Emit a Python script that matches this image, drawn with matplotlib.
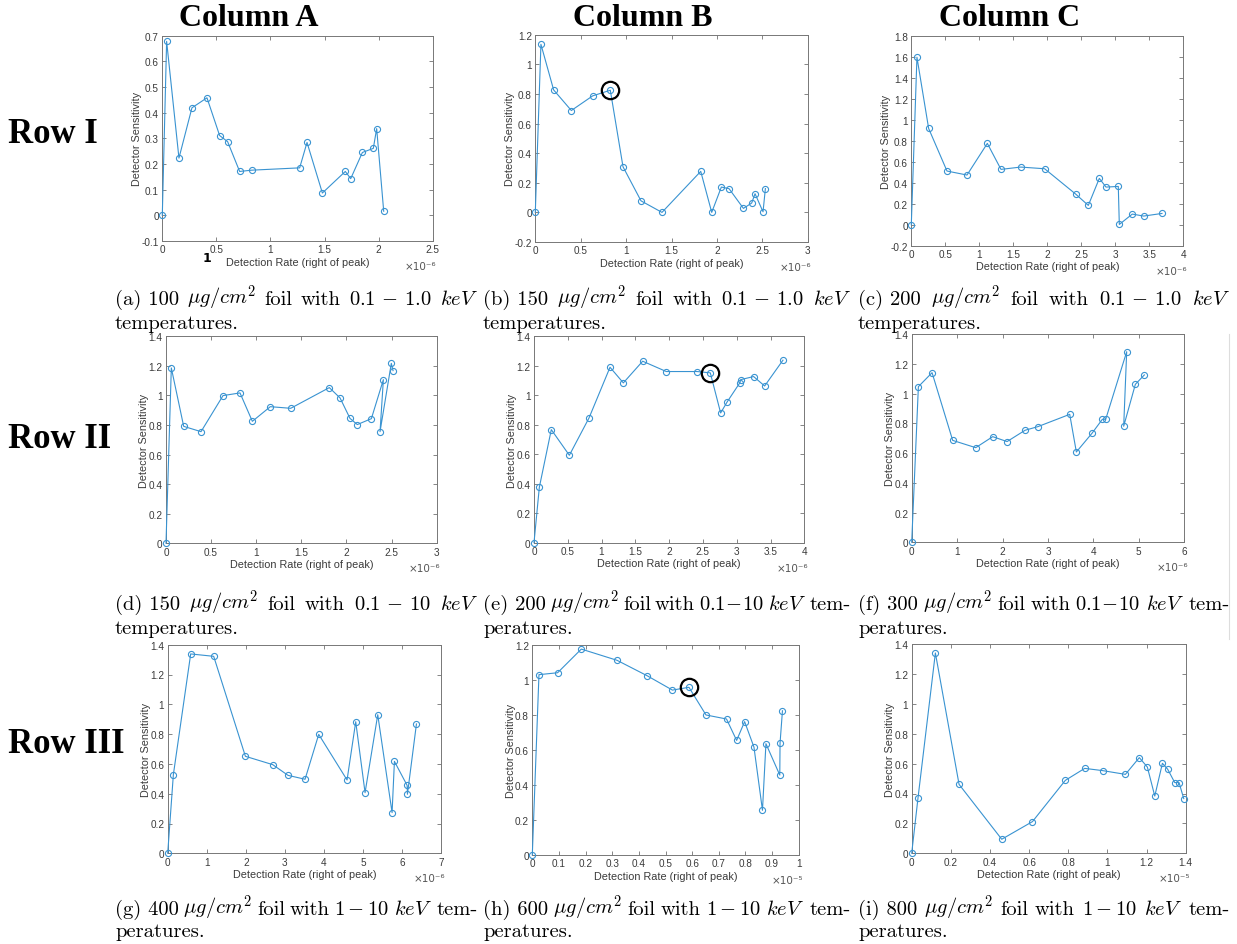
import matplotlib
matplotlib.use("Agg")
import matplotlib.pyplot as plt
from matplotlib.ticker import FuncFormatter
import numpy as np

W, H = 1237, 945

# detection rate (x, in units of the axis multiplier) and detector sensitivity (y)
a_rate = [0, 0.04, 0.154, 0.274, 0.413, 0.530, 0.604, 0.715, 0.826, 1.270, 1.338,
          1.480, 1.692, 1.742, 1.850, 1.951, 1.982, 2.047]
a_sens = [0, 0.678, 0.223, 0.419, 0.458, 0.311, 0.287, 0.171, 0.176, 0.185, 0.284,
          0.087, 0.171, 0.143, 0.245, 0.261, 0.338, 0.016]

b_rate = [0, 0.062, 0.202, 0.397, 0.632, 0.826, 0.966, 1.164, 1.395, 1.822, 1.943,
          2.049, 2.134, 2.292, 2.383, 2.420, 2.508, 2.534]
b_sens = [0, 1.135, 0.827, 0.688, 0.787, 0.825, 0.308, 0.078, 0.0, 0.277, 0.0,
          0.171, 0.160, 0.027, 0.063, 0.126, 0.004, 0.161]

c_rate = [0, 0.083, 0.255, 0.525, 0.819, 1.118, 1.319, 1.608, 1.961, 2.417, 2.603,
          2.765, 2.863, 3.044, 3.059, 3.250, 3.417, 3.686]
c_sens = [0, 1.60, 0.92, 0.513, 0.475, 0.777, 0.529, 0.551, 0.535, 0.293, 0.185,
          0.443, 0.360, 0.366, 0.003, 0.102, 0.083, 0.108]

d_rate = [0, 0.059, 0.196, 0.388, 0.632, 0.820, 0.957, 1.156, 1.382, 1.810, 1.929,
          2.039, 2.120, 2.276, 2.409, 2.372, 2.497, 2.516]
d_sens = [0, 1.186, 0.791, 0.755, 0.999, 1.017, 0.825, 0.924, 0.913, 1.053, 0.983,
          0.845, 0.803, 0.843, 1.107, 0.755, 1.217, 1.168]

e_rate = [0, 0.079, 0.256, 0.523, 0.814, 1.125, 1.322, 1.608, 1.958, 2.412, 2.609,
          2.762, 2.861, 3.048, 3.058, 3.250, 3.413, 3.684]
e_sens = [0, 0.376, 0.767, 0.593, 0.846, 1.19, 1.084, 1.231, 1.161, 1.161, 1.152,
          0.880, 0.957, 1.086, 1.106, 1.127, 1.063, 1.238]

f_rate = [0, 0.147, 0.448, 0.902, 1.409, 1.783, 2.099, 2.495, 2.774, 3.478, 3.624,
          3.969, 4.197, 4.270, 4.732, 4.666, 4.923, 5.121]
f_sens = [0, 1.046, 1.140, 0.685, 0.636, 0.710, 0.677, 0.753, 0.777, 0.860, 0.607,
          0.733, 0.827, 0.827, 1.281, 0.780, 1.062, 1.125]

g_rate = [0, 0.145, 0.589, 1.178, 1.990, 2.690, 3.083, 3.518, 3.868, 4.594, 4.816,
          5.055, 5.380, 5.747, 5.807, 6.132, 6.140, 6.371]
g_sens = [0, 0.528, 1.338, 1.322, 0.651, 0.595, 0.523, 0.497, 0.798, 0.492, 0.883,
          0.407, 0.930, 0.273, 0.617, 0.456, 0.396, 0.868]

h_rate = [0, 0.025, 0.095, 0.184, 0.318, 0.431, 0.526, 0.588, 0.652, 0.729, 0.767,
          0.797, 0.832, 0.864, 0.877, 0.929, 0.930, 0.939]
h_sens = [0, 1.029, 1.040, 1.175, 1.111, 1.023, 0.941, 0.957, 0.799, 0.776, 0.654,
          0.761, 0.616, 0.255, 0.635, 0.456, 0.639, 0.823]

i_rate = [0, 0.032, 0.121, 0.242, 0.460, 0.617, 0.785, 0.884, 0.976, 1.092, 1.163,
          1.204, 1.242, 1.281, 1.308, 1.344, 1.366, 1.390]
i_sens = [0, 0.368, 1.340, 0.461, 0.094, 0.212, 0.488, 0.568, 0.553, 0.528, 0.640,
          0.577, 0.383, 0.602, 0.562, 0.473, 0.473, 0.366]

# panel layout in pixels: left, right, top, bottom
panels = [
    dict(x=a_rate, y=a_sens, box=(162.3, 432.7, 36.7, 242.0), xlim=(0, 2.5), xstep=0.5,
         ylim=(-0.1, 0.7), ystep=0.1, mult="\u00d710\u207b\u2076", mark=None),
    dict(x=b_rate, y=b_sens, box=(535.3, 807.7, 35.7, 243.0), xlim=(0, 3), xstep=0.5,
         ylim=(-0.2, 1.2), ystep=0.2, mult="\u00d710\u207b\u2076", mark=5),
    dict(x=c_rate, y=c_sens, box=(911.3, 1183.3, 37.3, 246.7), xlim=(0, 4), xstep=0.5,
         ylim=(-0.2, 1.8), ystep=0.2, mult="\u00d710\u207b\u2076", mark=None),
    dict(x=d_rate, y=d_sens, box=(166.0, 436.7, 337.3, 544.3), xlim=(0, 3), xstep=0.5,
         ylim=(0, 1.4), ystep=0.2, mult="\u00d710\u207b\u2076", mark=None),
    dict(x=e_rate, y=e_sens, box=(534.0, 804.3, 337.3, 543.7), xlim=(0, 4), xstep=0.5,
         ylim=(0, 1.4), ystep=0.2, mult="\u00d710\u207b\u2076", mark=10),
    dict(x=f_rate, y=f_sens, box=(911.7, 1184.3, 335.0, 543.3), xlim=(0, 6), xstep=1,
         ylim=(0, 1.4), ystep=0.2, mult="\u00d710\u207b\u2076", mark=None),
    dict(x=g_rate, y=g_sens, box=(167.7, 441.0, 645.7, 854.3), xlim=(0, 7), xstep=1,
         ylim=(0, 1.4), ystep=0.2, mult="\u00d710\u207b\u2076", mark=None),
    dict(x=h_rate, y=h_sens, box=(532.3, 798.7, 645.7, 856.0), xlim=(0, 1), xstep=0.1,
         ylim=(0, 1.2), ystep=0.2, mult="\u00d710\u207b\u2075", mark=7),
    dict(x=i_rate, y=i_sens, box=(911.7, 1185.7, 645.0, 854.3), xlim=(0, 1.4), xstep=0.2,
         ylim=(0, 1.4), ystep=0.2, mult="\u00d710\u207b\u2075", mark=None),
]

captions = [
    ["(a) 100", r"$\mu g/cm^2$", "foil", "with", r"$0.1\,-\,1.0$", r"$keV$"],
    ["(b) 150", r"$\mu g/cm^2$", "foil", "with", r"$0.1\,-\,1.0$", r"$keV$"],
    ["(c) 200", r"$\mu g/cm^2$", "foil", "with", r"$0.1\,-\,1.0$", r"$keV$"],
    ["(d) 150", r"$\mu g/cm^2$", "foil", "with", r"$0.1\,-\,10$", r"$keV$"],
    ["(e) 200", r"$\mu g/cm^2$", "foil", "with", r"$0.1\!-\!10$", r"$keV$", "tem-"],
    ["(f) 300", r"$\mu g/cm^2$", "foil", "with", r"$0.1\!-\!10$", r"$keV$", "tem-"],
    ["(g) 400", r"$\mu g/cm^2$", "foil", "with", r"$1-10$", r"$keV$", "tem-"],
    ["(h) 600", r"$\mu g/cm^2$", "foil", "with", r"$1-10$", r"$keV$", "tem-"],
    ["(i) 800", r"$\mu g/cm^2$", "foil", "with", r"$1-10$", r"$keV$", "tem-"],
]
second_lines = ["temperatures."] * 4 + ["peratures."] * 5
caption_cols = [(115, 478), (483, 851), (858, 1230)]
caption_base = [(305, 329), (610, 634), (915, 937)]

col_titles = ["Column A", "Column B", "Column C"]
col_x = [249, 643, 1010]
row_titles = ["Row I", "Row II", "Row III"]
row_y = [135, 440, 745]

plt.rcParams["mathtext.fontset"] = "cm"
line_col = "#3993d1"
text_col = "#3a3a3a"
fig = plt.figure(figsize=(W / 100, H / 100), dpi=100)


def fx(px):
    return px / W


def fy(py):
    return 1 - py / H


for p in panels:
    l, r, t, b = p["box"]
    ax = fig.add_axes([fx(l), fy(b), (r - l) / W, (b - t) / H])
    ax.plot(p["x"], p["y"], "-o", color=line_col, lw=0.8, ms=4.4, mfc="none", mew=0.8,
            clip_on=False, zorder=3)
    if p["mark"] is not None:
        k = p["mark"]
        ax.plot(p["x"][k], p["y"][k], "o", ms=12.5, mfc="none", mec="black", mew=1.6,
                zorder=4)
    ax.set_xlim(*p["xlim"])
    ax.set_ylim(*p["ylim"])
    ax.set_xticks(np.arange(p["xlim"][0], p["xlim"][1] + 1e-9, p["xstep"]))
    ax.set_yticks(np.arange(p["ylim"][0], p["ylim"][1] + 1e-9, p["ystep"]))
    fmt = FuncFormatter(lambda v, _: f"{round(v, 3):g}")
    ax.xaxis.set_major_formatter(fmt)
    ax.yaxis.set_major_formatter(fmt)
    ax.tick_params(direction="in", top=True, right=True, length=3, width=0.5,
                   colors="#555555", labelcolor=text_col, labelsize=7.2, pad=2.5)
    for lab in ax.get_xticklabels() + ax.get_yticklabels():
        lab.set_family("Liberation Sans")
    for s in ax.spines.values():
        s.set_color("#777777")
        s.set_linewidth(0.7)
    ax.set_xlabel("Detection Rate (right of peak)", fontsize=7.8, color=text_col,
                  labelpad=1.5, family="Liberation Sans")
    ax.set_ylabel("Detector Sensitivity", fontsize=7.8, color=text_col, labelpad=-0.5,
                  family="Liberation Sans")
    ax.annotate(p["mult"], xy=(1, 0), xycoords="axes fraction", xytext=(4, -20),
                textcoords="offset pixels", ha="right", va="top",
                fontsize=7.5, color="#555555", family="DejaVu Sans")

# stray mark under panel (a)
fig.text(fx(207), fy(259), "1", fontsize=9, fontweight="bold", ha="center", va="center")

for name, x in zip(col_titles, col_x):
    fig.text(fx(x), fy(18), name, family="Liberation Serif", fontweight="bold",
             fontsize=23, ha="center", va="center")
for name, y in zip(row_titles, row_y):
    fig.text(fx(8), fy(y), name, family="Liberation Serif", fontweight="bold",
             fontsize=25, ha="left", va="center")

# justified two-line captions
renderer = fig.canvas.get_renderer()
cap_kw = dict(family="cmr10", fontsize=14.8, va="baseline", ha="left")
for n, words in enumerate(captions):
    x0, x1 = caption_cols[n % 3]
    base1, base2 = caption_base[n // 3]
    texts = [fig.text(0, fy(base1), w, **cap_kw) for w in words]
    widths = [t.get_window_extent(renderer).width for t in texts]
    gap = max((x1 - x0 - sum(widths)) / (len(words) - 1), 3)
    x = x0
    for t, w in zip(texts, widths):
        t.set_x(fx(x))
        x += w + gap
    fig.text(fx(x0), fy(base2), second_lines[n], **cap_kw)

# page edge on the right
fig.add_artist(plt.Line2D([fx(1229), fx(1229)], [fy(335), fy(640)], color="#dddddd",
                          lw=0.8))

fig.savefig("out.png", dpi=100)
